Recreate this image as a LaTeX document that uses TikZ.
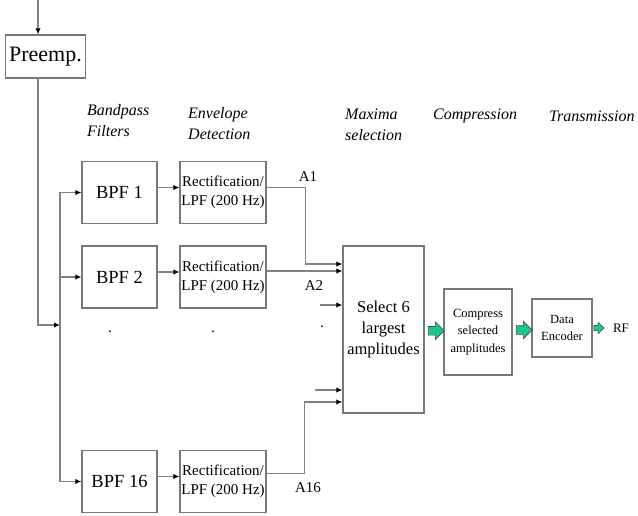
\documentclass[tikz,border=0pt]{standalone}
\usepackage{fontspec}
\setmainfont{Liberation Serif}
\usetikzlibrary{arrows.meta,shapes.arrows,calc}
\definecolor{linegray}{RGB}{130,130,130}
\definecolor{boxgray}{RGB}{120,120,120}
\definecolor{arrowgreen}{RGB}{32,196,145}
\tikzset{block/.style={draw=boxgray, line width=1.3pt, inner sep=0pt, align=center}}
\tikzset{conn/.style={draw=linegray, line width=1.3pt, -{Latex[length=6pt,width=5.5pt,color=black]}}}
\tikzset{head/.style={font=\fontsize{16}{21}\selectfont\itshape, align=left, anchor=west, inner sep=0pt}}
\tikzset{lab/.style={font=\fontsize{15}{17}\selectfont, inner sep=0pt}}
\tikzset{fat/.style={single arrow, draw=black!70, fill=arrowgreen, line width=0.6pt, inner xsep=0pt, inner ysep=4pt,
  minimum height=16pt, single arrow head extend=4.5pt}}

\begin{document}
\begin{tikzpicture}[x=1pt, y=-1pt]
  \useasboundingbox (0,0) rectangle (638,515);

  % input and pre-emphasis
  \coordinate (in) at (38,0);
  \coordinate (bus) at (60,325);
  \node[block, minimum width=80pt, minimum height=43pt, font=\fontsize{22}{24}\selectfont] (pre) at (45.5,56.5) {Preemp.};
  \draw[conn] (in) -- (in |- pre.north);
  \draw[conn] (in |- pre.south) |- (bus);

  % column titles
  \node[head] (hbpf) at (87,121) {Bandpass\\Filters};
  \node[head] (henv) at (188,124) {Envelope\\Detection};
  \node[head] (hmax) at (345,125) {Maxima\\selection};
  \node[head] (hcmp) at (433,116) {Compression};
  \node[head] (htx) at (549,116) {Transmission};

  % filter bank
  \foreach \n/\y in {1/192.5, 2/277, 16/481.5} {
    \node[block, minimum width=75pt, minimum height=62pt, font=\fontsize{18.5}{20}\selectfont] (bpf\n) at (119.5,\y) {BPF \n};
    \node[block, minimum width=86pt, minimum height=62pt, font=\fontsize{15}{19}\selectfont] (rect\n) at (223,\y) {Rectification/\\LPF (200 Hz)};
    \draw[conn] (bus) |- (bpf\n.west);
    \draw[conn] ([yshift=5pt]bpf\n.east) -- ([yshift=5pt]rect\n.west);
  }
  \node[lab] (dot1) at (110,332) {.};
  \node[lab] (dot2) at (213,332) {.};

  % maxima selection
  \node[block, minimum width=81pt, minimum height=167pt, font=\fontsize{16.5}{21}\selectfont] (sel) at (383.5,329.5) {Select 6\\largest\\amplitudes};
  \draw[conn] ([yshift=5pt]rect1.east) -- ++(39,0) |- ([yshift=65.5pt]sel.west);
  \draw[conn] ([yshift=6pt]rect2.east) -- ([yshift=6pt]rect2.east -| sel.west);
  \draw[conn] ([yshift=8pt]rect16.east) -- ++(38,0) |- ([yshift=-72.5pt]sel.west);
  \coordinate (s1) at (320,305);
  \coordinate (s2) at (315,390);
  \draw[conn] (s1) -- (s1 -| sel.west);
  \draw[conn] (s2) -- (s2 -| sel.west);
  \node[lab] (dot3) at (322,327) {.};
  \node[lab] (a1) at (308,177) {A1};
  \node[lab] (a2) at (314,286) {A2};
  \node[lab] (a16) at (308,488) {A16};

  % compression and transmission
  \node[block, minimum width=68pt, minimum height=86pt, font=\fontsize{12.5}{17.5}\selectfont] (cmp) at (478,332) {Compress\\selected\\amplitudes};
  \node[block, minimum width=60pt, minimum height=58pt, font=\fontsize{12.5}{17}\selectfont] (enc) at (562,328) {Data\\Encoder};
  \node[font=\fontsize{13}{15}\selectfont, inner sep=0pt] (rf) at (621,328) {RF};
  \node[fat] (g1) at ($(sel.east)!0.5!(cmp.west)$) {};
  \node[fat] (g2) at ($(cmp.east)!0.5!(enc.west)$) {};
  \node[fat, minimum height=10pt, inner ysep=2.5pt, single arrow head extend=3pt, anchor=west] (g3) at ([xshift=1pt]enc.east) {};
\end{tikzpicture}
\end{document}
